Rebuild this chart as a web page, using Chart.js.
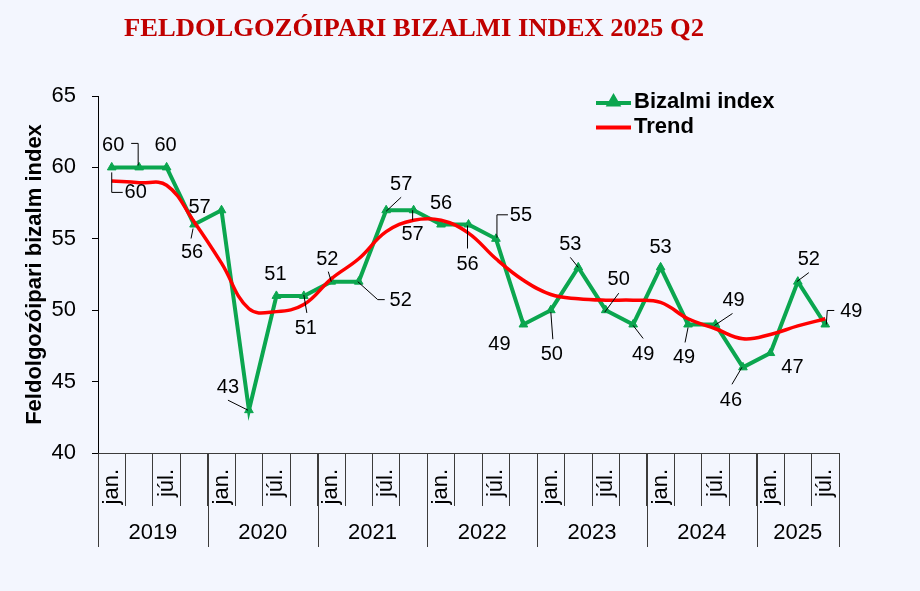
<!DOCTYPE html>
<html><head><meta charset="utf-8">
<script src="https://cdn.jsdelivr.net/npm/chart.js@4"></script>
<style>html,body{margin:0;padding:0;background:#F3F6FE;overflow:hidden}</style>
</head><body><canvas id="c" width="920" height="591"></canvas>
<script>
// ---------- DATA ----------
const quarterLabels = ['jan.','','júl.','', 'jan.','','júl.','', 'jan.','','júl.','', 'jan.','','júl.','', 'jan.','','júl.','', 'jan.','','júl.','', 'jan.','','júl.'];
const years = ['2019','2020','2021','2022','2023','2024','2025'];
const quartersInYear = [4,4,4,4,4,4,3];
const bizalmiIndex = [60,60,60,56, 57,43,51,51, 52,52,57,57, 56,56,55,49, 50,53,50,49, 53,49,49,46, 47,52,49];
const trend = [59.05,58.93,58.75,56.2, 53.3,50.1,49.9,50.4, 52.2,53.6,55.5,56.3, 56.3,55.4,53.6,52.1, 51.1,50.8,50.7,50.7, 50.55,49.4,48.7,48.0, 48.3,48.9,49.4];
const yMin = 40, yMax = 65, yStep = 5;
const seriesNames = ['Bizalmi index', 'Trend'];
const titleText = 'FELDOLGOZÓIPARI BIZALMI INDEX 2025 Q2';
const yAxisTitle = 'Feldolgozóipari bizalm index';

// ---------- LABEL LAYOUT (offsets from each point, px) ----------
const labelLayout = [
  {dx:24,dy:24, leader:[[11,25],[0,25],[0,5]]},
  {dx:-26,dy:-23, leader:[[-8,-24],[-1,-24],[-1,-2]]},
  {dx:-1,dy:-23},
  {dx:-2,dy:27, leader:[[-3,14],[-1,4]]},
  {dx:-22,dy:-4},
  {dx:-21,dy:-24, leader:[[-21,-10],[-1,0]]},
  {dx:-1,dy:-22},
  {dx:2,dy:32, leader:[[3,17],[0,-1]]},
  {dx:-4,dy:-23, leader:[[-3,-10],[0,0]]},
  {dx:42,dy:18, leader:[[-1,0],[19,18],[26,18]]},
  {dx:15,dy:-27, leader:[[15,-13],[0,1]]},
  {dx:-1,dy:23, leader:[[-1,0],[-1,10]]},
  {dx:0,dy:-22},
  {dx:-1,dy:39, leader:[[-1,1],[-1,24]]},
  {dx:25,dy:-24, leader:[[12,-24],[1,-24],[1,-1]]},
  {dx:-24,dy:19},
  {dx:1,dy:43, leader:[[2,29],[0,2]]},
  {dx:-8,dy:-24, leader:[[-8,-10],[0,0]]},
  {dx:13,dy:-32, leader:[[13,-17],[-1,2]]},
  {dx:10,dy:29, leader:[[0,1],[10,14]]},
  {dx:0,dy:-21},
  {dx:-4,dy:32, leader:[[0,3],[-3,18]]},
  {dx:18,dy:-25, leader:[[17,-11],[-1,1]]},
  {dx:-12,dy:32, leader:[[-1,0],[-11,17]]},
  {dx:22,dy:13},
  {dx:11,dy:-23, leader:[[11,-9],[-1,0]]},
  {dx:26,dy:-14, leader:[[9,-14],[2,-14],[1,0]]}
];

const FONT = '"Liberation Sans", Arial, sans-serif';
const GREEN = '#0BA64F';
const RED = '#FF0000';
const BG = '#F3F6FE';
const AXIS = '#3C3C3C';
Chart.defaults.font.family = FONT;
Chart.defaults.color = '#000';

const bgPlugin = {
  id: 'bg',
  beforeDraw(chart) {
    const c = chart.ctx; c.save(); c.fillStyle = BG; c.fillRect(0,0,chart.width,chart.height); c.restore();
  }
};

const titlePlugin = {
  id: 'ttl',
  afterDraw(chart) {
    const c = chart.ctx; c.save();
    c.font = 'bold 26px "Liberation Serif", "Times New Roman", serif';
    c.fillStyle = '#C00000'; c.textBaseline = 'alphabetic'; c.textAlign = 'left';
    const w = c.measureText(titleText).width;
    const target = 580;
    c.translate(124, 36); c.scale(target / w, 1);
    c.fillText(titleText, 0, 0);
    c.restore();
  }
};

const yearPlugin = {
  id: 'years',
  afterDraw(chart) {
    const xs = chart.scales.x, c = chart.ctx;
    const step = xs.getPixelForValue(1) - xs.getPixelForValue(0);
    const top = chart.chartArea.bottom;
    c.save();
    c.strokeStyle = AXIS; c.lineWidth = 1;
    c.font = '22px ' + FONT; c.fillStyle = '#000'; c.textAlign = 'center'; c.textBaseline = 'middle';
    let idx = 0;
    const bounds = [0];
    quartersInYear.forEach((n, k) => {
      const x0 = xs.getPixelForValue(idx) - step / 2;
      const x1 = xs.getPixelForValue(idx + n - 1) + step / 2;
      c.fillText(years[k], (x0 + x1) / 2, top + 80);
      idx += n; bounds.push(idx);
    });
    bounds.forEach(b => {
      const x = Math.round(xs.getPixelForValue(b) - step / 2) + 0.5;
      c.beginPath(); c.moveTo(x, top); c.lineTo(x, top + 94); c.stroke();
    });
    c.restore();
  }
};

const labelPlugin = {
  id: 'dlabels',
  afterDatasetsDraw(chart) {
    const meta = chart.getDatasetMeta(0), c = chart.ctx;
    c.save();
    c.font = '20px ' + FONT; c.fillStyle = '#000'; c.textAlign = 'center'; c.textBaseline = 'middle';
    c.strokeStyle = '#000'; c.lineWidth = 1;
    meta.data.forEach((pt, i) => {
      const L = labelLayout[i];
      if (L.leader) {
        c.beginPath();
        L.leader.forEach((p, k) => { k ? c.lineTo(pt.x + p[0], pt.y + p[1]) : c.moveTo(pt.x + p[0], pt.y + p[1]); });
        c.stroke();
      }
      c.fillText(String(bizalmiIndex[i]), pt.x + L.dx, pt.y + L.dy + 1);
    });
    c.restore();
  }
};

const legendPlugin = {
  id: 'lgd',
  afterDraw(chart) {
    const c = chart.ctx; c.save();
    c.lineWidth = 4; c.lineCap = 'butt';
    c.strokeStyle = GREEN; c.beginPath(); c.moveTo(596, 103); c.lineTo(631, 103); c.stroke();
    c.fillStyle = GREEN; c.strokeStyle = GREEN;
    Chart.helpers.drawPoint(c, {pointStyle: 'triangle', radius: 5, rotation: 0, borderWidth: 1}, 613.5, 102);
    c.lineWidth = 4; c.strokeStyle = RED; c.beginPath(); c.moveTo(596, 127.5); c.lineTo(631, 127.5); c.stroke();
    c.font = 'bold 22px ' + FONT; c.fillStyle = '#000'; c.textAlign = 'left'; c.textBaseline = 'middle';
    c.fillText(seriesNames[0], 634, 102);
    c.fillText(seriesNames[1], 634, 127);
    c.restore();
  }
};

new Chart(document.getElementById('c'), {
  type: 'line',
  data: {
    labels: quarterLabels,
    datasets: [
      { label: seriesNames[0], data: bizalmiIndex, borderColor: GREEN, backgroundColor: GREEN, borderWidth: 4,
        pointStyle: 'triangle', pointRadius: 5, pointBorderWidth: 1, pointBackgroundColor: GREEN, pointBorderColor: GREEN,
        tension: 0, order: 1 },
      { label: seriesNames[1], data: trend, borderColor: RED, borderWidth: 3.5, pointRadius: 0, tension: 0.4, order: 0 }
    ]
  },
  options: {
    responsive: false, animation: false, devicePixelRatio: 1,
    layout: { padding: { left: 0, right: 81, top: 96, bottom: 0 } },
    plugins: { legend: { display: false }, title: { display: false }, tooltip: { enabled: false } },
    scales: {
      x: {
        type: 'category', offset: true,
        grid: { offset: true, drawOnChartArea: false, drawTicks: true, tickLength: 53, color: AXIS },
        border: { display: true, color: AXIS, width: 1 },
        ticks: { autoSkip: false, minRotation: 90, maxRotation: 90, padding: -37, font: { size: 22 }, color: '#000' },
        afterFit(s) { s.height = 138; }
      },
      y: {
        min: yMin, max: yMax,
        grid: { drawOnChartArea: false, drawTicks: true, tickLength: 6, color: '#000' },
        border: { display: true, color: '#000', width: 1 },
        ticks: { stepSize: yStep, padding: 16, font: { size: 22 }, color: '#000' },
        title: { display: true, text: yAxisTitle, font: { size: 22, weight: 'bold' }, color: '#000', padding: { top: 22, bottom: 0 } },
        afterFit(s) { s.width = 98; }
      }
    }
  },
  plugins: [bgPlugin, titlePlugin, yearPlugin, labelPlugin, legendPlugin]
});
</script>
</body></html>
